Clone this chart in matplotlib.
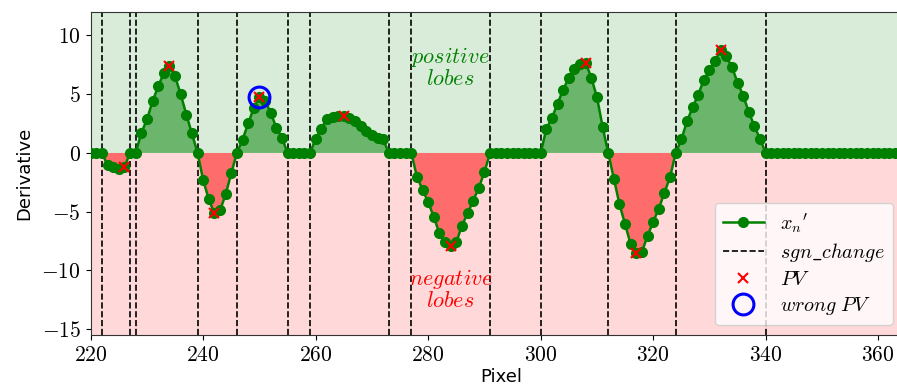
import numpy as np
import matplotlib
matplotlib.use('Agg')
import matplotlib.pyplot as plt
from matplotlib.ticker import FuncFormatter
from matplotlib.lines import Line2D

plt.rcParams['mathtext.fontset'] = 'cm'

# derivative of the profile, one value per pixel (220 ... 366)
pixel = np.arange(220, 367)
deriv = [
    0, 0, 0, -1.05, -1.19, -1.33, -1.2, 0, 0, 1.70,
    2.85, 4.39, 5.68, 6.8, 7.38, 6.52, 5.0, 3.27, 1.66, 0,
    -2.32, -3.96, -5.15, -4.87, -3.53, -1.7, 0, 1.14, 2.52, 3.84,
    4.76, 4.45, 3.42, 2.16, 1.29, 0, 0, 0, 0, 0,
    1.22, 2.07, 2.92, 3.08, 3.12, 3.15, 2.95, 2.7, 2.3, 1.9,
    1.55, 1.3, 1.15, 0, 0, 0, 0, 0, -2.04, -3.13,
    -4.19, -5.46, -6.85, -7.62, -7.93, -7.6, -6.18, -5.15, -4.05, -2.97,
    -1.61, 0, 0, 0, 0, 0, 0, 0, 0, 0,
    0, 2.04, 3.0, 4.2, 5.4, 6.4, 7.17, 7.6, 7.68, 6.4,
    4.76, 2.24, 0, -2.18, -4.36, -6.09, -7.79, -8.55, -8.41, -7.05,
    -5.86, -4.73, -3.37, -2.04, 0, 1.15, 2.68, 3.88, 4.97, 6.22,
    7.08, 7.85, 8.73, 8.22, 7.3, 5.99, 4.87, 3.48, 2.27, 1.18,
    0, 0, 0, 0, 0, 0, 0, 0, 0, 0,
    0, 0, 0, 0, 0, 0, 0, 0, 0, 0,
    0, 0, 0, 0, 0, 0, 0,
]
deriv = np.array(deriv)

sign_changes = [222, 227, 228, 239, 246, 255, 259, 273, 277, 291, 300, 312, 324, 340]
peak_pixels = [226, 234, 242, 250, 265, 284, 308, 317, 332]
wrong_pixels = [250]

peak_vals = deriv[np.searchsorted(pixel, peak_pixels)]
wrong_vals = deriv[np.searchsorted(pixel, wrong_pixels)]

fig = plt.figure(figsize=(8.97, 3.91), dpi=100)
ax = fig.add_axes([0.1011, 0.1432, 0.9156, 0.8261])
ax.set_xlim(220, 366)
ax.set_ylim(-15.5, 12)

# background halves
ax.axhspan(0, 12, color='green', alpha=0.15, lw=0, zorder=0)
ax.axhspan(-15.5, 0, color='red', alpha=0.15, lw=0, zorder=0)

# lobes
ax.fill_between(pixel, deriv, 0, where=deriv > 0, interpolate=True,
                color='green', alpha=0.5, lw=0, zorder=1)
ax.fill_between(pixel, deriv, 0, where=deriv < 0, interpolate=True,
                color='red', alpha=0.5, lw=0, zorder=1)

for sc in sign_changes:
    ax.axvline(sc, color='black', ls='--', lw=1.2, zorder=2)

ax.plot(pixel, deriv, '-o', color='green', lw=1.8, markersize=7, zorder=3)
ax.plot(peak_pixels, peak_vals, 'x', color='red', markersize=6.5, mew=1.5, zorder=4)
ax.plot(wrong_pixels, wrong_vals, 'o', mfc='none', mec='blue', markersize=15, mew=2.2, zorder=5)

ax.text(284, 7.3, '$positive$\n$lobes$', color='green', fontsize=16,
        ha='center', va='center', linespacing=1.0)
ax.text(284, -11.6, '$negative$\n$lobes$', color='red', fontsize=16,
        ha='center', va='center', linespacing=1.0)

ax.set_xticks([220, 240, 260, 280, 300, 320, 340, 360])
ax.set_yticks([10, 5, 0, -5, -10, -15])
ax.xaxis.set_major_formatter(FuncFormatter(lambda v, p: '$%d$' % v))
ax.yaxis.set_major_formatter(FuncFormatter(lambda v, p: '$%d$' % v))
ax.tick_params(labelsize=15.5)
ax.set_xlabel('Pixel', fontsize=13, labelpad=2)
ax.set_ylabel('Derivative', fontsize=13, labelpad=6)
for s in ax.spines.values():
    s.set_color('#333333')

handles = [
    Line2D([], [], color='green', marker='o', lw=1.8, markersize=7),
    Line2D([], [], color='black', ls='--', lw=1.2),
    Line2D([], [], color='red', marker='x', ls='none', markersize=6.5, mew=1.5),
    Line2D([], [], color='blue', marker='o', mfc='none', ls='none', markersize=15, mew=2.2),
]
labels = ["${x_n}'$", r'$sgn\_change$', '$PV$', r'$wrong\ PV$']
ax.legend(handles, labels, fontsize=14.5, loc='lower right',
          bbox_to_anchor=(0.9952, 0.1688), bbox_transform=fig.transFigure,
          borderaxespad=0, framealpha=0.8, labelspacing=0.3)

fig.savefig('out.png', dpi=100)
